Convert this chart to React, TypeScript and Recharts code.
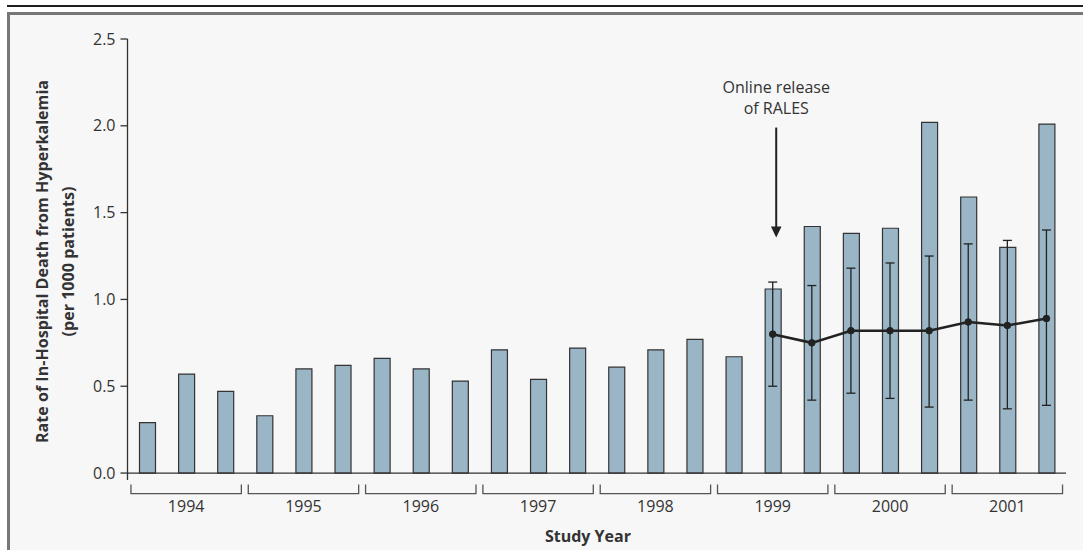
import React from 'react';
import { ComposedChart, Bar, Line, XAxis, YAxis, ReferenceLine, ErrorBar } from 'recharts';

const years = ['1994', '1995', '1996', '1997', '1998', '1999', '2000', '2001'];
const periodsPerYear = ['1', '2', '3'];
const periods = years.flatMap((y) => periodsPerYear.map((p) => `${y}-${p}`));

const observedRates = [
  0.29, 0.57, 0.47,
  0.33, 0.60, 0.62,
  0.66, 0.60, 0.53,
  0.71, 0.54, 0.72,
  0.61, 0.71, 0.77,
  0.67, 1.06, 1.42,
  1.38, 1.41, 2.02,
  1.59, 1.30, 2.01,
];

const expectedRates = [
  null, null, null, null, null, null, null, null, null, null, null, null, null, null, null, null,
  0.80, 0.75, 0.82, 0.82, 0.82, 0.87, 0.85, 0.89,
];
const expectedLow = [
  null, null, null, null, null, null, null, null, null, null, null, null, null, null, null, null,
  0.50, 0.42, 0.46, 0.43, 0.38, 0.42, 0.37, 0.39,
];
const expectedHigh = [
  null, null, null, null, null, null, null, null, null, null, null, null, null, null, null, null,
  1.10, 1.08, 1.18, 1.21, 1.25, 1.32, 1.34, 1.40,
];

const yTicks = [0, 0.5, 1.0, 1.5, 2.0, 2.5];
const yDomain = [-0.04, 2.5];

const releaseIndex = 16;
const releaseArrowTop = 1.99;
const releaseArrowTip = 1.357;
const releaseText = ['Online release', 'of RALES'];

const yLabelLines = ['Rate of In-Hospital Death from Hyperkalemia', '(per 1000 patients)'];
const xLabel = 'Study Year';

const data = periods.map((period, i) => {
  const e = expectedRates[i];
  const lo = expectedLow[i];
  const hi = expectedHigh[i];
  return {
    period,
    observed: observedRates[i],
    expected: e,
    expectedErr: e != null && lo != null && hi != null ? [e - lo, hi - e] : undefined,
  };
});

const FONT = '"Open Sans", "DejaVu Sans", sans-serif';
const TEXT = '#333';
const AXIS = '#333';
const BAR_FILL = '#9ab5c6';

const YearTick = (props: any) => {
  const { x, y, index, payload } = props;
  if (index % 3 !== 1) return <g />;
  const year = String(payload.value).slice(0, 4);
  const hw = 55.2;
  return (
    <g>
      <polyline
        points={`${x - hw},${y + 4.6} ${x - hw},${y + 13.6} ${x + hw},${y + 13.6} ${x + hw},${y + 4.6}`}
        fill="none"
        stroke="#555"
        strokeWidth={1.3}
      />
      <text x={x} y={y + 31.5} textAnchor="middle" fontFamily={FONT} fontSize={16} fill={TEXT}>
        {year}
      </text>
    </g>
  );
};

const YLabel = (props: any) => {
  const vb = props.viewBox || { x: 0, y: 0, width: 0, height: 0 };
  const cy = vb.y + vb.height / 2 + 2;
  return (
    <g>
      <text
        x={48}
        y={cy}
        transform={`rotate(-90, 48, ${cy})`}
        textAnchor="middle"
        fontFamily={FONT}
        fontWeight="bold"
        fontSize={16.1}
        fill={TEXT}
      >
        {yLabelLines[0]}
      </text>
      <text
        x={74}
        y={cy}
        transform={`rotate(-90, 74, ${cy})`}
        textAnchor="middle"
        fontFamily={FONT}
        fontWeight="bold"
        fontSize={16.1}
        fill={TEXT}
      >
        {yLabelLines[1]}
      </text>
    </g>
  );
};

const XLabel = (props: any) => {
  const vb = props.viewBox || { x: 0, y: 0, width: 0, height: 0 };
  return (
    <text
      x={vb.x + vb.width / 2 - 8.8}
      y={vb.y + 62}
      textAnchor="middle"
      fontFamily={FONT}
      fontWeight="bold"
      fontSize={16}
      fill={TEXT}
    >
      {xLabel}
    </text>
  );
};

const ReleaseArrow = (props: any) => {
  const { x1, y1, y2 } = props;
  const x = x1 + 3.5;
  const top = Math.min(y1, y2);
  const tip = Math.max(y1, y2);
  return (
    <g>
      <text x={x} y={top - 34.5} textAnchor="middle" fontFamily={FONT} fontSize={16} fill={TEXT}>
        {releaseText[0]}
      </text>
      <text x={x} y={top - 13.5} textAnchor="middle" fontFamily={FONT} fontSize={16} fill={TEXT}>
        {releaseText[1]}
      </text>
      <line x1={x} y1={top} x2={x} y2={tip - 10} stroke="#222" strokeWidth={2} />
      <polygon points={`${x - 5.3},${tip - 11} ${x + 5.3},${tip - 11} ${x},${tip}`} fill="#222" />
    </g>
  );
};

export default function App() {
  return (
    <div
      style={{
        position: 'absolute',
        left: 0,
        top: 0,
        width: 1083,
        height: 550,
        background: '#ffffff',
        overflow: 'hidden',
      }}
    >
      <div style={{ position: 'absolute', left: 7, top: 5, width: 1076, height: 1.5, background: '#1e1e1e' }} />
      <div
        style={{
          position: 'absolute',
          left: 7,
          top: 12,
          width: 1100,
          height: 560,
          borderTop: '3px solid #777',
          borderLeft: '3px solid #777',
          background: '#f7f7f7',
        }}
      />
      <div style={{ position: 'absolute', left: 0, top: 0 }}>
        <ComposedChart
          width={1083}
          height={550}
          data={data}
          margin={{ top: 39, right: 17, bottom: 10, left: 0 }}
        >
          <XAxis
            dataKey="period"
            interval={0}
            axisLine={false}
            tickLine={false}
            tickSize={0}
            tickMargin={0}
            height={60}
            tick={<YearTick />}
            label={<XLabel />}
          />
          <YAxis
            type="number"
            domain={yDomain}
            ticks={yTicks}
            allowDataOverflow
            width={127.5}
            axisLine={{ stroke: AXIS, strokeWidth: 1.3 }}
            tickLine={{ stroke: AXIS, strokeWidth: 1.3 }}
            tickSize={7}
            tickMargin={5}
            tickFormatter={(v: number) => v.toFixed(1)}
            tick={{ fontFamily: FONT, fontSize: 16, fill: TEXT }}
            label={<YLabel />}
          />
          <ReferenceLine y={0} stroke={AXIS} strokeWidth={1.3} />
          <Bar
            dataKey="observed"
            fill={BAR_FILL}
            stroke="#333"
            strokeWidth={1.2}
            barSize={16}
            isAnimationActive={false}
          />
          <Line
            dataKey="expected"
            stroke="#222"
            strokeWidth={2.5}
            dot={{ r: 3.3, fill: '#222', stroke: '#222', strokeWidth: 1 }}
            activeDot={false}
            connectNulls={false}
            isAnimationActive={false}
          >
            <ErrorBar dataKey="expectedErr" width={4.5} stroke="#222" strokeWidth={1.3} direction="y" />
          </Line>
          <ReferenceLine
            segment={[
              { x: periods[releaseIndex], y: releaseArrowTop },
              { x: periods[releaseIndex], y: releaseArrowTip },
            ]}
            shape={<ReleaseArrow />}
          />
        </ComposedChart>
      </div>
    </div>
  );
}
